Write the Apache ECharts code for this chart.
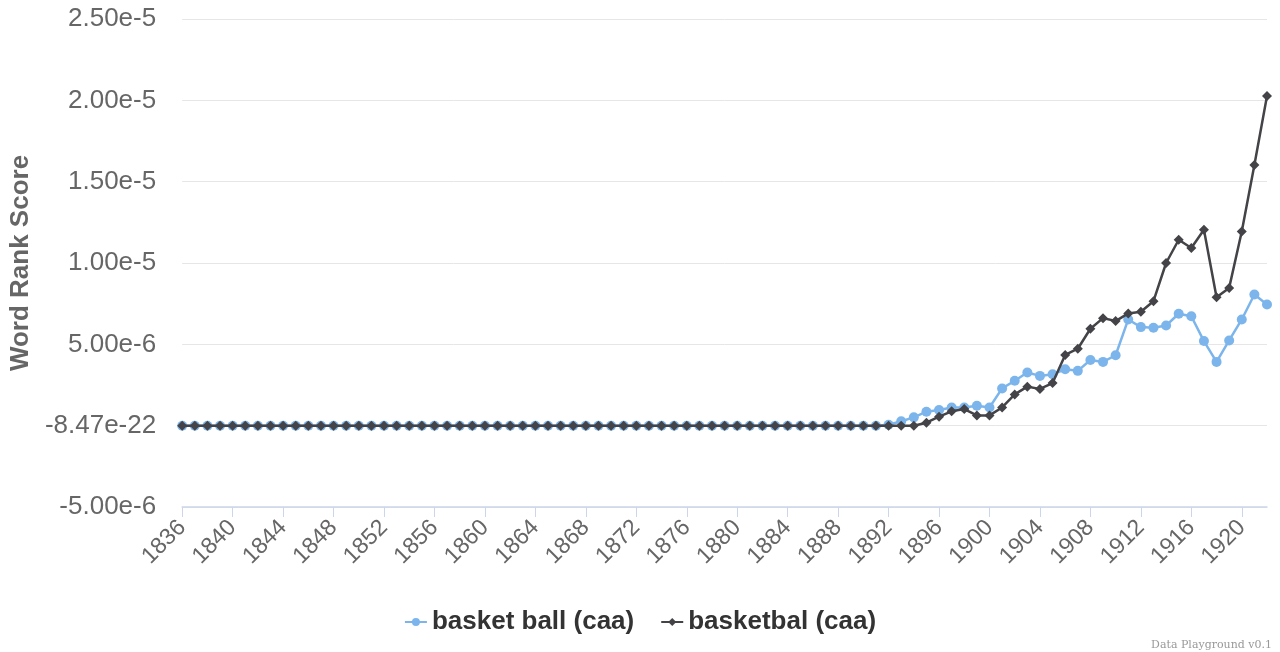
<!DOCTYPE html>
<html>
<head>
<meta charset="utf-8">
<script src="https://cdn.jsdelivr.net/npm/echarts@6/dist/echarts.min.js"></script>
<style>
html,body{margin:0;padding:0;background:#fff;}
#chart{width:1280px;height:652px;}
</style>
</head>
<body>
<div id="chart"></div>
<script>
// Years 1836..1922
const years = [];
for (let y = 1836; y <= 1922; y++) years.push(String(y));

// Values in units of 1e-6, years 1892..1922 (earlier years are zero)
const basketBallLate = [0.06, 0.27, 0.51, 0.86, 0.96, 1.12, 1.12, 1.22, 1.12, 2.29,
  2.76, 3.27, 3.06, 3.16, 3.47, 3.37, 4.04, 3.92, 4.33, 6.53,
  6.06, 6.02, 6.16, 6.88, 6.73, 5.20, 3.92, 5.24, 6.53, 8.06, 7.45];
const basketbalLate = [0, 0, 0, 0.18, 0.55, 0.88, 1.02, 0.63, 0.63, 1.12,
  1.92, 2.40, 2.26, 2.62, 4.35, 4.73, 5.96, 6.61, 6.43, 6.90,
  7.00, 7.65, 10.0, 11.43, 10.92, 12.04, 7.90, 8.47, 11.94, 16.02, 20.27];
const zerosEarly = new Array(1892 - 1836).fill(0);

const basketBall = zerosEarly.concat(basketBallLate).map(v => v * 1e-6);
const basketbal = zerosEarly.concat(basketbalLate).map(v => v * 1e-6);

const yTickLabels = {"0": "-8.47e-22"};

const FONT = 'Liberation Sans, Arial, sans-serif';
const chart = echarts.init(document.getElementById('chart'));
chart.setOption({
  animation: false,
  backgroundColor: '#ffffff',
  grid: {left: 174, right: 13, top: 19, bottom: 145, containLabel: false},
  legend: {
    bottom: 12, left: 'center',
    itemWidth: 22, itemHeight: 10, itemGap: 26,
    textStyle: {fontSize: 26, fontWeight: 'bold', color: '#333333', fontFamily: FONT},
    data: ['basket ball (caa)', 'basketbal (caa)']
  },
  xAxis: {
    type: 'category',
    data: years,
    boundaryGap: false,
    axisLine: {onZero: false, lineStyle: {color: '#ccd6eb', width: 1.5}},
    axisTick: {interval: 3, length: 10, lineStyle: {color: '#ccd6eb'}},
    axisLabel: {interval: 3, rotate: 45, margin: 17, fontSize: 23, color: '#666666', fontFamily: FONT},
    splitLine: {show: false}
  },
  yAxis: {
    type: 'value',
    min: -5e-6, max: 2.5e-5, interval: 5e-6,
    name: 'Word Rank Score',
    nameLocation: 'middle',
    nameGap: 144,
    nameTextStyle: {fontSize: 26, fontWeight: 'bold', color: '#666666', fontFamily: FONT},
    axisLine: {show: false},
    axisTick: {show: false},
    axisLabel: {
      fontSize: 26, color: '#666666', margin: 26, fontFamily: FONT,
      formatter: function (v) {
        if (Math.abs(v) < 1e-12) return yTickLabels["0"];
        return v.toExponential(2);
      }
    },
    splitLine: {lineStyle: {color: '#e6e6e6', width: 1}}
  },
  graphic: [{
    type: 'text', right: 8, bottom: 1,
    style: {text: 'Data Playground v0.1', fontSize: 11, fill: '#999999', fontFamily: 'DejaVu Serif, serif'}
  }],
  series: [{
    name: 'basket ball (caa)',
    type: 'line',
    data: basketBall,
    showAllSymbol: true,
    symbol: 'circle', symbolSize: 10,
    itemStyle: {color: '#7cb5ec'},
    lineStyle: {color: '#7cb5ec', width: 2.5},
    z: 2
  }, {
    name: 'basketbal (caa)',
    type: 'line',
    data: basketbal,
    showAllSymbol: true,
    symbol: 'diamond', symbolSize: 10,
    itemStyle: {color: '#434348'},
    lineStyle: {color: '#434348', width: 2.5},
    z: 3
  }]
});
</script>
</body>
</html>
